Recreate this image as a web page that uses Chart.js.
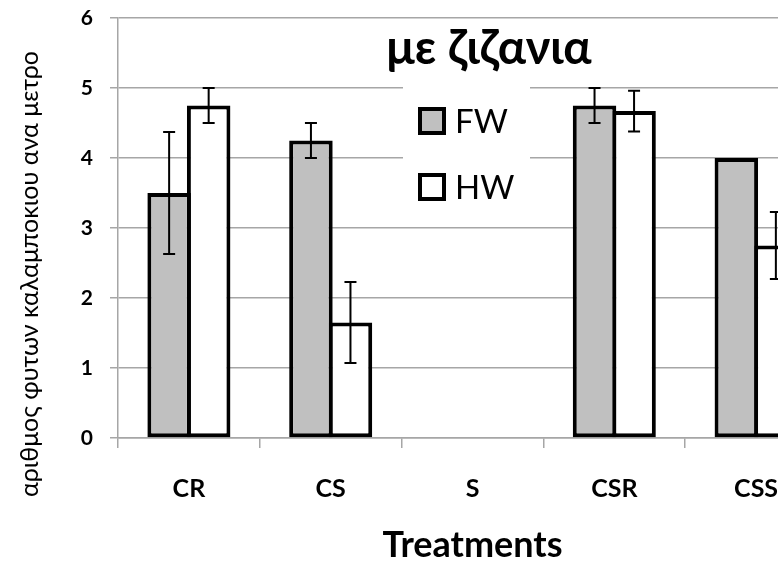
<!DOCTYPE html>
<html>
<head>
<meta charset="utf-8">
<script src="https://cdn.jsdelivr.net/npm/chart.js@4/dist/chart.umd.min.js"></script>
<style>
  html, body { margin: 0; padding: 0; background: #fff; overflow: hidden; }
  #wrap { width: 778px; height: 563px; overflow: hidden; position: relative; }
  canvas { display: block; }
</style>
</head>
<body>
<div id="wrap"><canvas id="c" width="860" height="563"></canvas></div>
<script>
// Treatments and mean plant counts per metre (FW / HW), with error half-widths
const categories = ['CR', 'CS', 'S', 'CSR', 'CSS'];
const fwValues = [3.5, 4.25, null, 4.75, 4.0];
const hwValues = [4.75, 1.65, null, 4.67, 2.75];
const fwErrors = [0.87, 0.25, null, 0.25, 0];
const hwErrors = [0.25, 0.58, null, 0.29, 0.48];
const yTicks = [0, 1, 2, 3, 4, 5, 6];

const FONT = "Lato, 'Noto Sans', 'DejaVu Sans', sans-serif";
const GRID = '#a6a6a6';

// Error bars drawn at each bar's centre through the value scale
const errorBars = {
  id: 'errorBars',
  afterDatasetsDraw(chart) {
    const ctx = chart.ctx;
    const y = chart.scales.y;
    ctx.save();
    ctx.strokeStyle = '#000';
    ctx.lineWidth = 2;
    chart.data.datasets.forEach((ds, di) => {
      const meta = chart.getDatasetMeta(di);
      ds.errors.forEach((e, i) => {
        const v = ds.data[i];
        if (v == null || !e) return;
        const x = meta.data[i].x;
        const top = y.getPixelForValue(v + e);
        const bot = y.getPixelForValue(v - e);
        ctx.beginPath();
        ctx.moveTo(x, top); ctx.lineTo(x, bot);
        ctx.moveTo(x - 6, top); ctx.lineTo(x + 6, top);
        ctx.moveTo(x - 6, bot); ctx.lineTo(x + 6, bot);
        ctx.stroke();
      });
    });
    ctx.restore();
  }
};

// Title, legend box and rotated value-axis title
const decorations = {
  id: 'decorations',
  beforeDatasetsDraw(chart) {
    const ctx = chart.ctx;
    ctx.save();
    // legend panel
    ctx.fillStyle = '#fff';
    ctx.fillRect(403, 84, 127, 132);
    const rows = [121, 187];
    chart.data.datasets.forEach((ds, i) => {
      const cy = rows[i];
      ctx.fillStyle = ds.backgroundColor;
      ctx.fillRect(420, cy - 12, 24, 24);
      ctx.strokeStyle = '#000';
      ctx.lineWidth = 4;
      ctx.strokeRect(420, cy - 12, 24, 24);
      ctx.fillStyle = '#000';
      ctx.font = '33px ' + FONT;
      ctx.textAlign = 'left';
      ctx.textBaseline = 'middle';
      ctx.fillText(ds.label, 455, cy + 1);
    });
    ctx.restore();
  },
  afterDraw(chart) {
    const ctx = chart.ctx;
    ctx.save();
    ctx.fillStyle = '#000';
    ctx.font = 'bold 47px ' + FONT;
    ctx.textAlign = 'center';
    ctx.textBaseline = 'middle';
    ctx.fillText('με ζιζανια', 489, 49);

    ctx.translate(30, 274);
    ctx.rotate(-Math.PI / 2);
    ctx.font = '25px ' + FONT;
    ctx.fillText('αριθμος φυτων καλαμποκιου ανα μετρο', 0, 0);
    ctx.restore();
  }
};

new Chart(document.getElementById('c'), {
  type: 'bar',
  data: {
    labels: categories,
    datasets: [
      {
        label: 'FW', data: fwValues, errors: fwErrors,
        backgroundColor: '#c0c0c0', borderColor: '#000', borderWidth: 4,
        borderSkipped: false, categoryPercentage: 0.5575, barPercentage: 1.101
      },
      {
        label: 'HW', data: hwValues, errors: hwErrors,
        backgroundColor: '#ffffff', borderColor: '#000', borderWidth: 4,
        borderSkipped: false, categoryPercentage: 0.5575, barPercentage: 1.101
      }
    ]
  },
  options: {
    responsive: false,
    devicePixelRatio: 1,
    animation: false,
    layout: { padding: { left: 0, right: 33, top: 18, bottom: 0 } },
    plugins: { legend: { display: false }, tooltip: { enabled: false } },
    scales: {
      x: {
        grid: { drawOnChartArea: false, drawTicks: true, tickLength: 10, color: GRID, lineWidth: 1.5, offset: true },
        border: { display: true, color: GRID, width: 1.5 },
        ticks: { color: '#000', font: { family: FONT, size: 25, weight: 'bold' }, padding: 26 },
        title: { display: true, text: 'Treatments', color: '#000', font: { family: FONT, size: 36, weight: 'bold' }, padding: { top: 0, bottom: -4 } },
        afterFit(s) { s.height = 125; s.paddingLeft = 0; s.paddingRight = 0; }
      },
      y: {
        min: 0, max: 6,
        afterBuildTicks(s) { s.ticks = yTicks.map(v => ({ value: v })); },
        grid: { color: GRID, lineWidth: 1.5, tickLength: 8 },
        border: { display: true, color: GRID, width: 1.5 },
        ticks: { color: '#000', font: { family: FONT, size: 21, weight: 'bold' }, padding: 17 },
        afterFit(s) { s.width = 118; s.paddingTop = 0; s.paddingBottom = 0; }
      }
    }
  },
  plugins: [errorBars, decorations]
});
</script>
</body>
</html>
